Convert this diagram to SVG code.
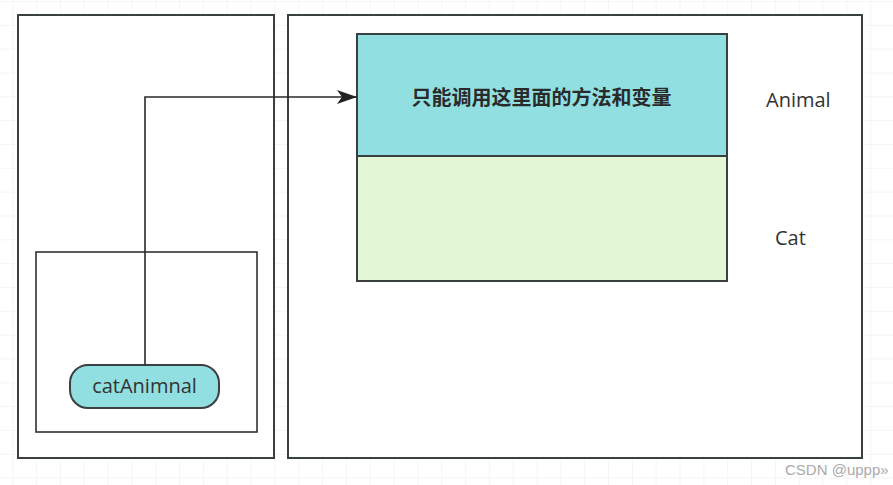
<svg xmlns="http://www.w3.org/2000/svg" width="893" height="485" viewBox="0 0 893 485">
<defs>
<pattern id="grid" x="12.3" y="1" width="23.83" height="23.83" patternUnits="userSpaceOnUse">
<path d="M0 0H23.83M0 0V23.83" fill="none" stroke="#ececec" stroke-width="1"/>
</pattern>
<marker id="arr" markerWidth="20" markerHeight="14" refX="20" refY="7" orient="auto" markerUnits="userSpaceOnUse">
<path d="M0 0L20 7L0 14L5 7Z" fill="#222"/>
</marker>
<style>
.box{fill:#fff;stroke:#3a3f42;stroke-width:2}
.inner{fill:#fff;stroke:#2f3335;stroke-width:1.6}
.cyan{fill:#91dfe0;stroke:#3a3f42;stroke-width:2}
.green{fill:#e3f7d7;stroke:#3a3f42;stroke-width:2}
.lbl{font-family:"Open Sans","Noto Sans","Liberation Sans",sans-serif;font-size:20px;fill:#333}
.cjk{font-family:"Noto Sans CJK SC",sans-serif;font-size:20px;font-weight:bold;fill:#2a2a2a}
.wm{font-family:"Liberation Sans",Arial,sans-serif;font-size:15px;fill:#aaa}
.conn{fill:none;stroke:#2a2a2a;stroke-width:1.6}
</style>
</defs>
<rect width="893" height="485" fill="#fff"/>
<rect width="893" height="485" fill="url(#grid)"/>
<g id="left-frame">
<rect class="box" x="18" y="15" width="256" height="443"/>
</g>
<g id="right-frame">
<rect class="box" x="288" y="15" width="574" height="443"/>
</g>
<g id="stack-frame">
<rect class="inner" x="36" y="252" width="221" height="180"/>
</g>
<g id="animal">
<rect class="cyan" x="357" y="34" width="370" height="122"/>
<text class="cjk" x="541.5" y="105" text-anchor="middle">只能调用这里面的方法和变量</text>
</g>
<g id="cat">
<rect class="green" x="357" y="156" width="370" height="125"/>
</g>
<g id="animal-label">
<text class="lbl" x="766" y="107">Animal</text>
</g>
<g id="cat-label">
<text class="lbl" x="775" y="245">Cat</text>
</g>
<g id="catAnimnal">
<rect class="cyan" x="70" y="365" width="149" height="43" rx="18" ry="18"/>
<text class="lbl" x="144.5" y="393" text-anchor="middle">catAnimnal</text>
</g>
<g id="connectors">
<path class="conn" d="M145 365V97H357" marker-end="url(#arr)"/>
</g>
<text class="wm" x="785" y="475">CSDN @uppp»</text>
</svg>
